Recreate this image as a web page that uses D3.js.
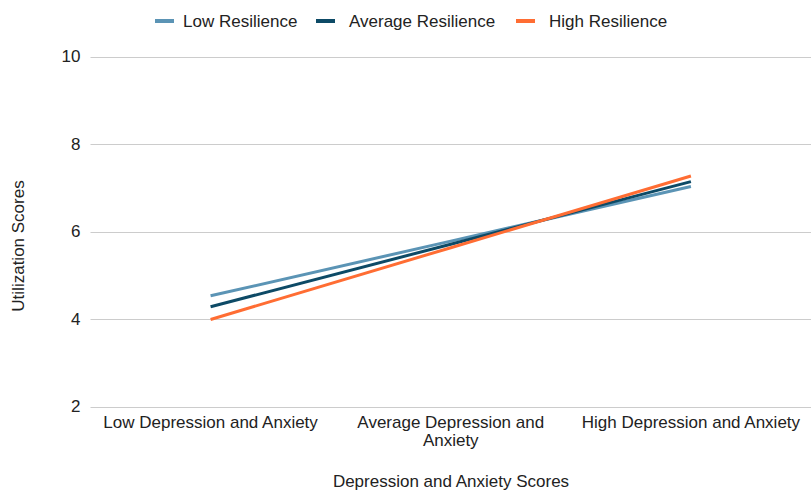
<!DOCTYPE html>
<html>
<head>
<meta charset="utf-8">
<script src="https://cdn.jsdelivr.net/npm/d3@7/dist/d3.min.js"></script>
<style>
  html, body { margin: 0; padding: 0; background: #fff; }
  svg { display: block; font-family: "Liberation Sans", Arial, sans-serif; }
</style>
</head>
<body>
<svg id="chart" width="811" height="491"></svg>
<script>
// Utilization scores by depression/anxiety level, one line per resilience group
const categories = ["Low Depression and Anxiety", "Average Depression and Anxiety", "High Depression and Anxiety"];
const seriesNames = ["Low Resilience", "Average Resilience", "High Resilience"];
const lowResilience = [4.53, 5.78, 7.03];
const averageResilience = [4.28, 5.71, 7.14];
const highResilience = [3.99, 5.63, 7.27];
const yTicks = [2, 4, 6, 8, 10];
const colors = ["#5b94b5", "#0d4a66", "#ff6d33"];

const seriesValues = [lowResilience, averageResilience, highResilience];

const FONT = 17;
const svg = d3.select("#chart");
const margin = { left: 90.5, right: 0, top: 56.5, bottom: 84.5 };
const W = 811, H = 491;

const x = d3.scaleBand().domain(categories).range([margin.left, W - margin.right]).padding(0);
const y = d3.scaleLinear().domain([2, 10]).range([H - margin.bottom, margin.top]);

// Horizontal gridlines
svg.append("g")
  .selectAll("line")
  .data(yTicks)
  .join("line")
  .attr("x1", margin.left).attr("x2", W - margin.right)
  .attr("y1", d => Math.round(y(d)) + 0.5).attr("y2", d => Math.round(y(d)) + 0.5)
  .attr("stroke", "#cccccc").attr("stroke-width", 1);

// Y axis labels
const yAxis = d3.axisLeft(y).tickValues(yTicks).tickSize(0).tickPadding(10);
svg.append("g")
  .attr("transform", `translate(${margin.left},0)`)
  .call(yAxis)
  .call(g => g.select(".domain").remove())
  .call(g => g.selectAll("text")
    .attr("font-size", FONT).attr("fill", "#222")
    .attr("font-family", "Liberation Sans, Arial, sans-serif"));

// X axis labels, wrapped to the band width
const xAxis = d3.axisBottom(x).tickSize(0).tickPadding(9);
const xg = svg.append("g")
  .attr("transform", `translate(0,${H - margin.bottom})`)
  .call(xAxis);
xg.select(".domain").remove();
xg.selectAll("text")
  .attr("font-size", FONT).attr("fill", "#222")
  .attr("font-family", "Liberation Sans, Arial, sans-serif")
  .each(function(d) {
    const t = d3.select(this);
    const maxW = 230;
    const words = d.split(" ");
    t.text(null);
    let line = [];
    let tspan = t.append("tspan").attr("x", 0).attr("dy", "0.71em");
    for (const w of words) {
      line.push(w);
      tspan.text(line.join(" "));
      if (tspan.node().getComputedTextLength() > maxW && line.length > 1) {
        line.pop();
        tspan.text(line.join(" "));
        line = [w];
        tspan = t.append("tspan").attr("x", 0).attr("dy", "1.1em").text(w);
      }
    }
  });

// Lines
const lineGen = d3.line()
  .x((d, i) => x(categories[i]) + x.bandwidth() / 2)
  .y(d => y(d));

svg.append("g")
  .selectAll("path")
  .data(seriesValues)
  .join("path")
  .attr("d", d => lineGen(d))
  .attr("fill", "none")
  .attr("stroke", (d, i) => colors[i])
  .attr("stroke-width", 3);

// Legend
const legendItems = [
  { name: seriesNames[0], sx: 155, tx: 183 },
  { name: seriesNames[1], sx: 316, tx: 349 },
  { name: seriesNames[2], sx: 516, tx: 549 }
];
const lg = svg.append("g");
legendItems.forEach((it, i) => {
  lg.append("rect")
    .attr("x", it.sx).attr("y", 19).attr("width", 19).attr("height", 4)
    .attr("fill", colors[i]);
  lg.append("text")
    .attr("x", it.tx).attr("y", 21).attr("dy", "0.35em")
    .attr("font-size", FONT).attr("fill", "#222")
    .text(it.name);
});

// Axis titles
svg.append("text")
  .attr("x", 451).attr("y", 481).attr("dy", "0.35em")
  .attr("text-anchor", "middle").attr("font-size", FONT).attr("fill", "#222")
  .text("Depression and Anxiety Scores");

svg.append("text")
  .attr("transform", "translate(18,246) rotate(-90)")
  .attr("dy", "0.35em")
  .attr("text-anchor", "middle").attr("font-size", FONT).attr("fill", "#222")
  .text("Utilization Scores");
</script>
</body>
</html>
